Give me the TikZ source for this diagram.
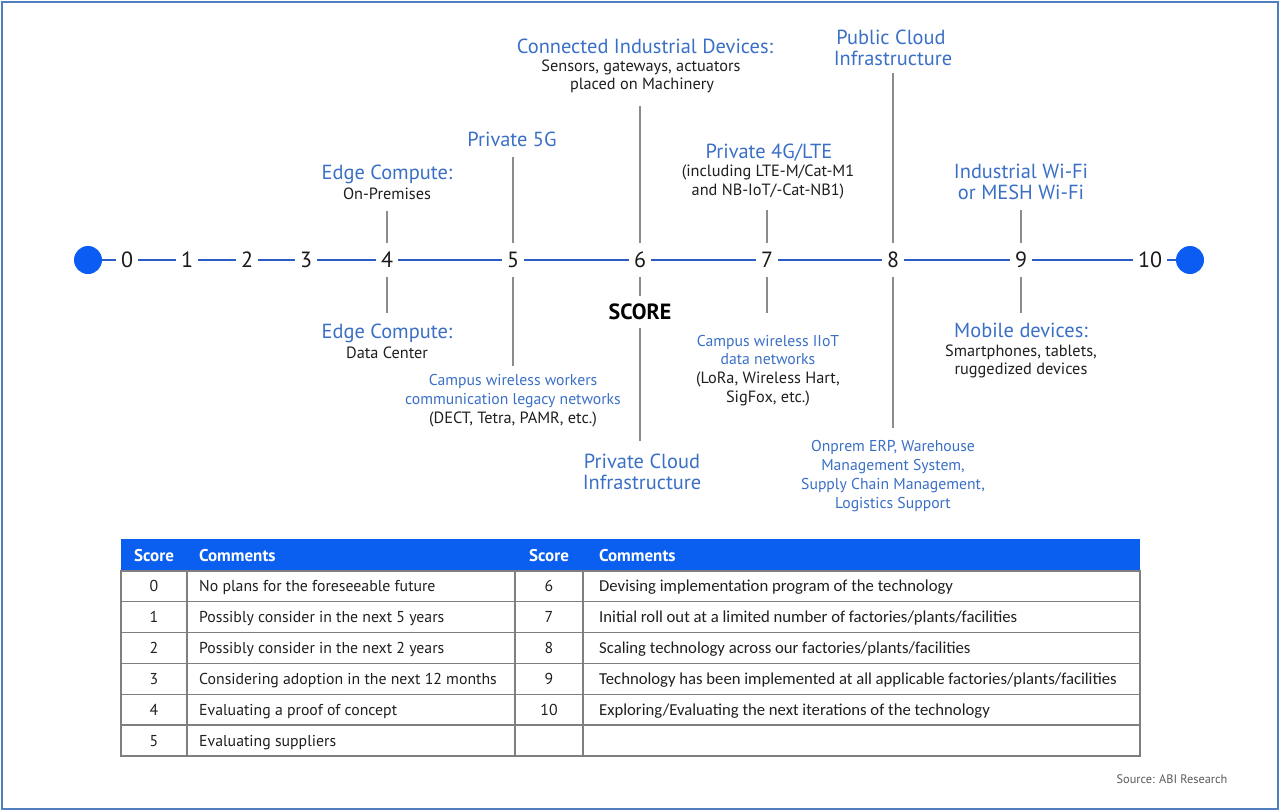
\documentclass[tikz,border=0pt]{standalone}
\usepackage{fontspec}
\setmainfont{PT Sans}
\newfontfamily\tabfont{Carlito}
\definecolor{lblue}{HTML}{3A6FC6}
\definecolor{tlblue}{HTML}{2C5CC8}
\definecolor{dotblue}{HTML}{0A5CF2}
\definecolor{hdrblue}{HTML}{0A5EF0}
\definecolor{vgray}{HTML}{8C8C8C}
\definecolor{gridgray}{HTML}{7F7F7F}
\definecolor{framecol}{HTML}{4F7FBF}
\begin{document}
\begin{tikzpicture}[x=1pt,y=-1pt,
  bl/.style={text=lblue, font=\fontsize{20.4}{22}\selectfont, anchor=base, inner sep=0},
  sub/.style={text=black!88, font=\fontsize{16.3}{18}\selectfont, anchor=base, inner sep=0},
  bls/.style={text=lblue, font=\fontsize{15.7}{17}\selectfont, anchor=base, inner sep=0},
  num/.style={text=black!90, font=\fontsize{22}{24}\selectfont, inner xsep=5, inner ysep=0, minimum height=34},
  tl/.style={draw=tlblue, line width=2.6},
  vl/.style={draw=vgray, line width=1.3},
  dot/.style={circle, fill=dotblue, minimum size=28, inner sep=0},
  grid/.style={draw=gridgray, line width=1.1},
  hd/.style={text=white, font=\fontsize{17}{19}\selectfont\bfseries, anchor=base, inner sep=0},
  cell/.style={text=black!88, font=\fontsize{15.8}{18}\selectfont, anchor=base, inner sep=0},
  cellr/.style={text=black!88, font=\tabfont\fontsize{16.7}{19}\selectfont, anchor=base west, inner sep=0}
]
\useasboundingbox (0,0) rectangle (1280,811);
\draw[framecol, line width=2] (2,2) rectangle (1278,809);

% timeline
\node[dot] (dl) at (88,260) {};
\node[dot] (dr) at (1190,260) {};
\foreach \i/\x in {0/127,1/187,2/247,3/306,4/387,5/513,6/640,7/767,8/893,9/1021,10/1150}
  \node[num] (n\i) at (\x,260) {\i};
\draw[tl] (dl) -- (n0);
\draw[tl] (n0) -- (n1);
\draw[tl] (n1) -- (n2);
\draw[tl] (n2) -- (n3);
\draw[tl] (n3) -- (n4);
\draw[tl] (n4) -- (n5);
\draw[tl] (n5) -- (n6);
\draw[tl] (n6) -- (n7);
\draw[tl] (n7) -- (n8);
\draw[tl] (n8) -- (n9);
\draw[tl] (n9) -- (n10);
\draw[tl] (n10) -- (dr);

% top labels
\node[bl] (ecA) at (387,179) {Edge Compute:};
\node[sub] (ecA2) at (387,199) {On-Premises};
\node[bl] (p5g) at (512,146) {Private 5G};
\node[bl] (cid) at (645,53) {Connected Industrial Devices:};
\node[sub] (cid2) at (641,71) {Sensors, gateways, actuators};
\node[sub] (cid3) at (642,89) {placed on Machinery};
\node[bl] (p4g) at (769,158) {Private 4G/LTE};
\node[sub] (p4g2) at (768,176) {(including LTE-M/Cat-M1};
\node[sub] (p4g3) at (768,195) {and NB-IoT/-Cat-NB1)};
\node[bl] (pub) at (891,44) {Public Cloud};
\node[bl] (pub2) at (893,65) {Infrastructure};
\node[bl] (wifi) at (1021,178) {Industrial Wi-Fi};
\node[bl] (wifi2) at (1021,199) {or MESH Wi-Fi};

% bottom labels
\node[bl] (ecB) at (387,338) {Edge Compute:};
\node[sub] (ecB2) at (387,358) {Data Center};
\node[text=black, font=\fontsize{22}{24}\selectfont\bfseries, inner xsep=2, inner ysep=8] (score) at (640,312) {SCORE};
\node[bls] (cw1) at (513,385) {Campus wireless workers};
\node[bls] (cw2) at (513,404) {communication legacy networks};
\node[sub] (cw3) at (513,423) {(DECT, Tetra, PAMR, etc.)};
\node[bl] (pc1) at (642,468) {Private Cloud};
\node[bl] (pc2) at (642,489) {Infrastructure};
\node[bls] (ci1) at (768,346) {Campus wireless IIoT};
\node[bls] (ci2) at (768,364) {data networks};
\node[sub] (ci3) at (768,383) {(LoRa, Wireless Hart,};
\node[sub] (ci4) at (768,402) {SigFox, etc.)};
\node[bls] (erp1) at (893,451) {Onprem ERP, Warehouse};
\node[bls] (erp2) at (893,470) {Management System,};
\node[bls] (erp3) at (893,489) {Supply Chain Management,};
\node[bls] (erp4) at (893,508) {Logistics Support};
\node[bl] (mob) at (1021,337) {Mobile devices:};
\node[sub] (mob2) at (1021,356) {Smartphones, tablets,};
\node[sub] (mob3) at (1021,374) {ruggedized devices};

% connector ends
\coordinate (t4) at (387,211);
\coordinate (t5) at (513,157);
\coordinate (t6) at (640,106);
\coordinate (t7) at (767,210);
\coordinate (t8) at (893,73);
\coordinate (t9) at (1021,210);
\coordinate (b4) at (387,313);
\coordinate (b5) at (513,366);
\coordinate (b6) at (640,441);
\coordinate (b7) at (767,313);
\coordinate (b8) at (893,428);
\coordinate (b9) at (1021,313);
\draw[vl] (t4) -- (n4);
\draw[vl] (t5) -- (n5);
\draw[vl] (t6) -- (n6);
\draw[vl] (t7) -- (n7);
\draw[vl] (t8) -- (n8);
\draw[vl] (t9) -- (n9);
\draw[vl] (n4) -- (b4);
\draw[vl] (n5) -- (b5);
\draw[vl] (n6) -- (score);
\draw[vl] (score) -- (b6);
\draw[vl] (n7) -- (b7);
\draw[vl] (n8) -- (b8);
\draw[vl] (n9) -- (b9);

% table
\fill[hdrblue] (121,539) rectangle (1140,571);
\draw[grid] (121,571) rectangle (1140,756);
\foreach \y in {601.7,632.7,663.3,694.3,725}
  \draw[grid] (121,\y) -- (1140,\y);
\foreach \x in {187,515,583}
  \draw[grid] (\x,571) -- (\x,756);
\node[hd] (h1) at (154,561) {Score};
\node[hd, anchor=base west] (h2) at (199,561) {Comments};
\node[hd] (h3) at (549,561) {Score};
\node[hd, anchor=base west] (h4) at (599,561) {Comments};
\foreach \r/\y/\t in {0/591/{No plans for the foreseeable future},
                       1/622/{Possibly consider in the next 5 years},
                       2/653/{Possibly consider in the next 2 years},
                       3/684/{Considering adoption in the next 12 months},
                       4/715/{Evaluating a proof of concept},
                       5/746/{Evaluating suppliers}}{
  \node[cell] (s\r) at (154,\y) {\r};
  \node[cell, anchor=base west] (c\r) at (199,\y) {\t};
}
\foreach \r/\y/\t in {6/591/{Devising implementation program of the technology},
                       7/622/{Initial roll out at a limited number of factories/plants/facilities},
                       8/653/{Scaling technology across our factories/plants/facilities},
                       9/684/{Technology has been implemented at all applicable factories/plants/facilities},
                       10/715/{Exploring/Evaluating the next iterations of the technology}}{
  \node[cell] (s\r) at (549,\y) {\r};
  \node[cellr] (c\r) at (599,\y) {\t};
}
\node[text=black!65, font=\fontsize{12.3}{14}\selectfont, anchor=base, inner sep=0] (src) at (1172,783) {Source: ABI Research};
\end{tikzpicture}
\end{document}
